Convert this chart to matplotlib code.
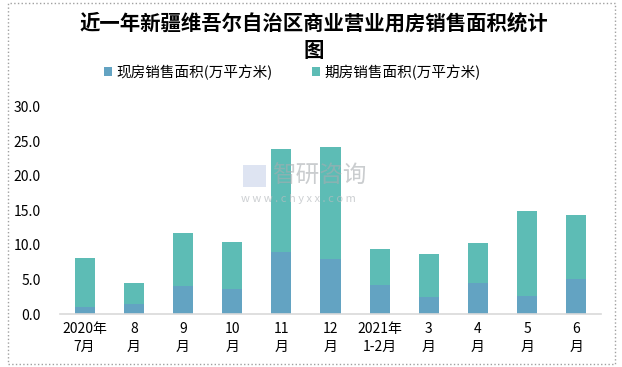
import matplotlib
matplotlib.use("Agg")
import matplotlib.pyplot as plt
from matplotlib.patches import Rectangle

plt.rcParams['font.family'] = ['Noto Sans CJK SC', 'DejaVu Sans']

months = ["2020年\n7月", "8\n月", "9\n月", "10\n月", "11\n月", "12\n月",
          "2021年\n1-2月", "3\n月", "4\n月", "5\n月", "6\n月"]
spot_area = [1.0, 1.45, 4.05, 3.6, 9.0, 8.0, 4.2, 2.5, 4.5, 2.6, 5.1]
futures_total = [8.1, 4.5, 11.7, 10.4, 23.9, 24.2, 9.4, 8.7, 10.3, 14.9, 14.3]
futures_area = [t - s for t, s in zip(futures_total, spot_area)]

spot_label = "现房销售面积(万平方米)"
futures_label = "期房销售面积(万平方米)"
title = "近一年新疆维吾尔自治区商业营业用房销售面积统计\n图"

spot_color = "#63A3C2"
futures_color = "#5DBCB5"

fig = plt.figure(figsize=(6.22, 3.67), dpi=100)
ax = fig.add_axes([0.0965, 0.1444, 0.8695, 0.5647])

x = list(range(len(months)))
ax.bar(x, spot_area, width=0.41, color=spot_color, label=spot_label, zorder=2)
ax.bar(x, futures_area, width=0.41, bottom=spot_area, color=futures_color,
       label=futures_label, zorder=2)

ax.set_xlim(-0.5, len(months) - 0.5)
ax.set_ylim(0, 30)
ax.set_yticks([0, 5, 10, 15, 20, 25, 30])
ax.set_yticklabels(["%.1f" % v for v in [0, 5, 10, 15, 20, 25, 30]], fontsize=10)
ax.set_xticks(x)
ax.set_xticklabels(months, fontsize=10, linespacing=1.3)
ax.tick_params(axis="both", length=0, pad=6)
ax.tick_params(axis="y", pad=14)
for side in ["top", "right", "left"]:
    ax.spines[side].set_visible(False)
ax.spines["bottom"].set_color("#D9D9D9")
ax.spines["bottom"].set_linewidth(1.2)

# watermark
fig.text(0.437, 0.518, "智研咨询", fontsize=17, color="#A8ACB0", alpha=0.6,
         ha="left", va="center")
fig.patches.append(Rectangle((0.39, 0.49), 0.038, 0.06, transform=fig.transFigure,
                             facecolor="#C9D3EA", edgecolor="none", alpha=0.6))
fig.text(0.388, 0.458, "w w w . c h y x x . c o m", fontsize=8, color="#B8BCC0",
         alpha=0.7, ha="left", va="center")

fig.text(0.505, 0.9, title, fontsize=14.7, fontweight="heavy", ha="center",
         va="center", linespacing=1.36)

fig.legend(loc="center", bbox_to_anchor=(0.47, 0.803), ncol=2, frameon=False,
           fontsize=10.5, handlelength=0.6, handleheight=0.6, columnspacing=2.65,
           handletextpad=0.3)

fig.patches.append(Rectangle((0.013, 0.008), 0.975, 0.983, transform=fig.transFigure,
                             fill=False, edgecolor="#A0A0A0", linestyle=":",
                             linewidth=1))

fig.savefig("out.png", dpi=100)
